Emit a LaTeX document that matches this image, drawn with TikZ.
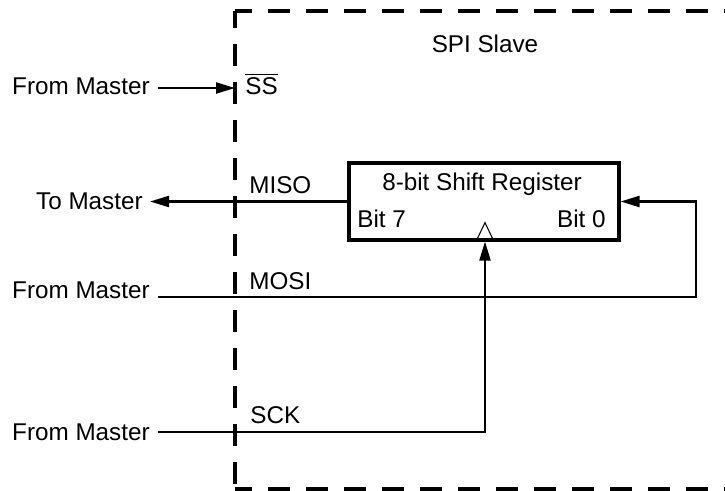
\documentclass[tikz,border=0pt]{standalone}
\usepackage{fontspec}
\setmainfont{Liberation Sans}
\usetikzlibrary{arrows.meta,positioning}

\begin{document}
\begin{tikzpicture}[
x=0.02cm,y=-0.02cm,
every node/.style={
font=\fontsize{13.8}{16}\selectfont,
inner sep=0pt
},
regbox/.style={
rectangle,
minimum width=5.4cm,
minimum height=1.54cm,
line width=1.8pt,
draw=black
},
sig/.style={line width=1.25pt},
sigarr/.style={sig,-{Triangle[length=0.38cm,width=0.22cm]}},
slavebox/.style={line width=1.9pt,dash pattern=on 0.44cm off 0.32cm}
]

\clip (0,0) rectangle (725,491);

\draw[slavebox,dash phase=0.1cm] (235,11) -- (235,489);
\draw[slavebox,dash phase=0.1cm] (235,11) -- (760,11);
\draw[slavebox,dash phase=0.1cm] (235,489) -- (760,489);

\node (slv) at (485,44) {SPI Slave};

\node[regbox] (sr) at (484,201.5) {};
\node[anchor=base] (srt) at (482,190) {8-bit Shift Register};
\node[anchor=base west] (b7) at (357,227) {Bit 7};
\node[anchor=base east] (b0) at (606,227) {Bit 0};

\node[anchor=base east] (m1) at (150,94) {From Master};
\node[anchor=base east] (m2) at (143,209) {To Master};
\node[anchor=base east] (m3) at (150,298) {From Master};
\node[anchor=base east] (m4) at (150,440) {From Master};

\node[anchor=base west] (ss) at (245,94) {$\overline{\mbox{SS}}$};
\node[anchor=base west] (miso) at (249,193) {MISO};
\node[anchor=base west] (mosi) at (249,289) {MOSI};
\node[anchor=base west] (sck) at (250,423) {SCK};

\coordinate (ssin) at (235,88);
\coordinate (fb) at (696,297);
\coordinate (ck) at (485,432);

\draw[sigarr,shorten <=4.5pt] (m1.east |- ssin) -- (ssin);
\draw[sigarr,shorten >=4pt] (sr.west) -- (sr.west -| m2.east);
\draw[sigarr,shorten <=4.5pt] (m3.east |- fb) -- (fb) |- (sr.east);
\draw[sigarr,shorten <=4.5pt] (m4.east |- ck) -- (ck) -- (ck |- sr.south);
\draw[line width=0.6pt] (ck |- sr.south) ++(-9,0) -- ++(9,-19) -- ++(9,19);

\end{tikzpicture}
\end{document}
